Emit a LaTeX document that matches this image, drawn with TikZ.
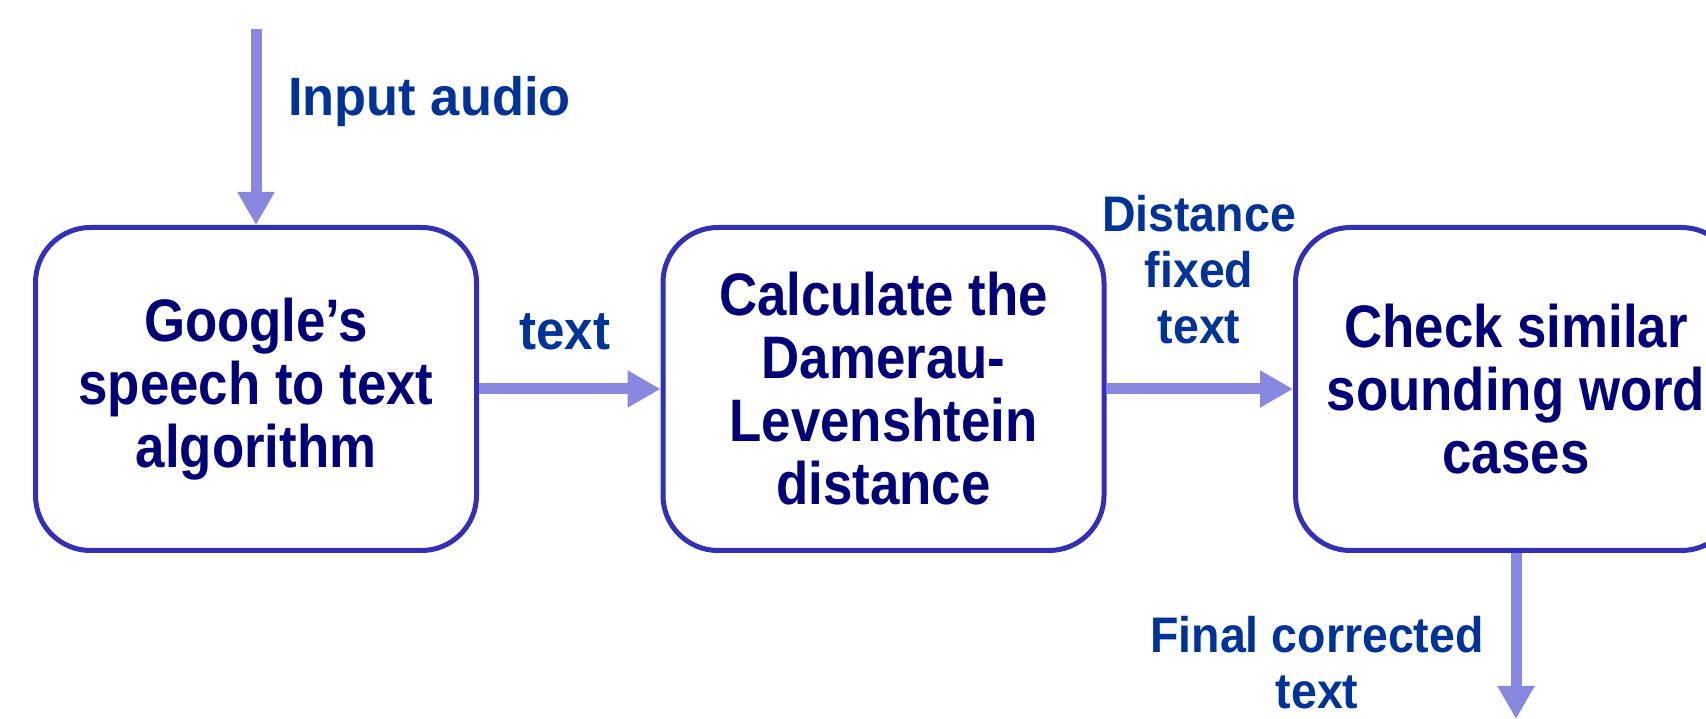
\documentclass[tikz,border=0pt]{standalone}
\usepackage{fontspec}
\setmainfont{Liberation Sans}
\newfontfamily\boxfam{Liberation Sans}[FakeStretch=0.88]
\newfontfamily\labfam{Liberation Sans}[FakeStretch=0.93]
\newfontfamily\infam{Liberation Sans}[FakeStretch=0.97]
\usetikzlibrary{arrows.meta}
\definecolor{boxc}{RGB}{51,48,184}
\definecolor{arrc}{RGB}{136,136,224}
\definecolor{boxtxt}{RGB}{0,0,120}
\definecolor{labtxt}{RGB}{0,51,153}
\newcommand\boxfont{\boxfam\bfseries\fontsize{60pt}{63pt}\selectfont}
\newcommand\labfont{\labfam\bfseries\fontsize{50pt}{56pt}\selectfont}
\newcommand\txtfont{\labfam\bfseries\fontsize{55pt}{56pt}\selectfont}
\newcommand\infont{\infam\bfseries\fontsize{54pt}{56pt}\selectfont}
\begin{document}
\begin{tikzpicture}[x=1pt,y=1pt,
  box/.style={draw=boxc, line width=5pt, rounded corners=55pt,
    minimum width=441pt, minimum height=323pt, align=center,
    text=boxtxt, font=\boxfont, inner sep=0pt},
  lab/.style={align=center, text=labtxt, font=\labfont, inner sep=0pt},
  flow/.style={draw=arrc, line width=11pt,
    -{Triangle[length=33pt,width=35pt]}}]
\useasboundingbox (0,0) rectangle (1706,719);
\clip (0,0) rectangle (1706,719);

\node[box] (b1) at (256,330) {Google’s\\speech to text\\algorithm};
\node[box] (b2) at (883.5,330) {Calculate the\\Damerau-\\Levenshtein\\distance};
\node[box] (b3) at (1516,330) {Check similar\\sounding word\\cases};

\coordinate (start) at (256,690);
\coordinate (finish) at (1516,0);

\draw[flow] (start) -- (b1.north);
\draw[flow] (b1.east) -- (b2.west);
\draw[flow] (b2.east) -- (b3.west);
\draw[flow] (b3.south) -- (finish);

\node[lab, font=\infont] (lin) at (429.5,617.5) {Input audio};
\node[lab, font=\txtfont] (ltext) at (565,387) {text};
\node[lab] (ldist) at (1199,449) {Distance\\fixed\\text};
\node[lab] (lfinal) at (1317,56) {Final corrected\\text};
\end{tikzpicture}
\end{document}
